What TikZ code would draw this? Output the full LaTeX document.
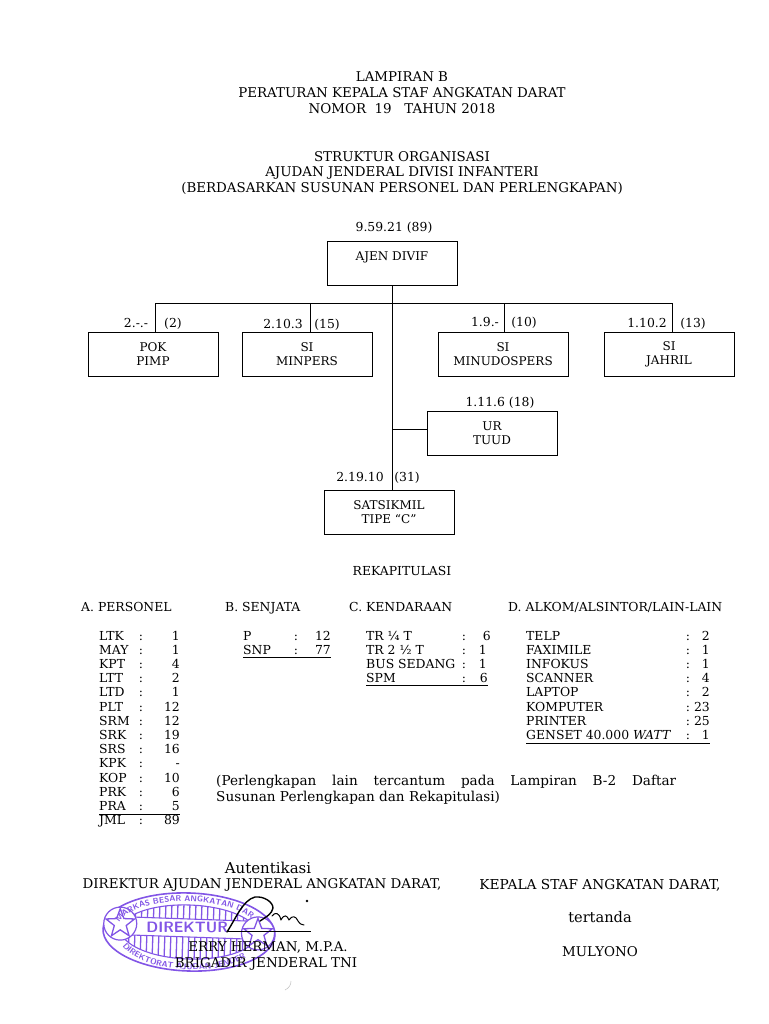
\documentclass[tikz,border=0pt]{standalone}
\usepackage{fontspec}
\setmainfont{DejaVu Serif}
\usetikzlibrary{shapes.geometric,decorations.text}
\definecolor{stampviolet}{RGB}{130,85,230}
\tikzset{
    unitbox/.style={draw,line width=0.9pt,minimum width=130pt,minimum height=44pt,align=center,inner sep=0pt,font=\fontsize{12}{14}\selectfont,execute at begin node={\rule{0pt}{13pt}}},
    txt/.style={inner sep=0pt,font=\fontsize{12.4}{14}\selectfont},
    lbl/.style={txt,anchor=base west},
    num/.style={txt,anchor=base east},
    mid/.style={txt,anchor=base},
    big/.style={font=\fontsize{13.4}{16}\selectfont},
    stamptext/.style={decorate,decoration={text along path,text align=center,text={|\sffamily\bfseries\fontsize{8.2}{9}\selectfont\color{stampviolet}|#1}}},
}
\begin{document}
\begin{tikzpicture}[x=1pt,y=-1pt]
    \useasboundingbox (0,0) rectangle (768,1024);

    \node[mid,big] (head1) at (402,82) {LAMPIRAN B};
    \node[mid,big] (head2) at (402,98) {PERATURAN KEPALA STAF ANGKATAN DARAT};
    \node[mid,big] (head3) at (402,114) {NOMOR\ \ 19\ \ \ TAHUN 2018};
    \node[mid,big] (title1) at (402,162) {STRUKTUR ORGANISASI};
    \node[mid,big] (title2) at (402,177) {AJUDAN JENDERAL DIVISI INFANTERI};
    \node[mid,big] (title3) at (402,193) {(BERDASARKAN SUSUNAN PERSONEL DAN PERLENGKAPAN)};

    \node[unitbox] (ajen) at (392,263) {AJEN DIVIF\\\mbox{}};
    \node[unitbox] (pok) at (153,354) {POK\\PIMP};
    \node[unitbox] (minpers) at (307,354) {SI\\MINPERS};
    \node[unitbox] (minudospers) at (503,354) {SI\\MINUDOSPERS};
    \node[unitbox] (jahril) at (669,354) {SI\\JAHRIL};
    \node[unitbox] (tuud) at (492,433) {UR\\TUUD};
    \node[unitbox] (satsikmil) at (389,512) {SATSIKMIL\\TIPE “C”};

    \draw[line width=0.9pt] (ajen.south) -- (ajen.south |- satsikmil.north);
    \draw[line width=0.9pt] (155,303) -- (672,303);
    \draw[line width=0.9pt] (155,303) -- (155,332);
    \draw[line width=0.9pt] (310,303) -- (310,332);
    \draw[line width=0.9pt] (504,303) -- (504,332);
    \draw[line width=0.9pt] (672,303) -- (672,332);
    \draw[line width=0.9pt] (tuud.west |- 0,429) -- (392,429);

    \node[mid] (strAjen) at (394,232) {9.59.21 (89)};
    \node[mid] (strPok) at (136,327) {2.-.-};
    \node[mid] (numPok) at (173,327) {(2)};
    \node[mid] (strMin) at (283,328) {2.10.3};
    \node[mid] (numMin) at (327,328) {(15)};
    \node[mid] (strUdo) at (485,326) {1.9.-};
    \node[mid] (numUdo) at (524,326) {(10)};
    \node[mid] (strJah) at (647,327) {1.10.2};
    \node[mid] (numJah) at (693,327) {(13)};
    \node[mid] (strTuud) at (500,406) {1.11.6 (18)};
    \node[mid] (strSat) at (360,481) {2.19.10};
    \node[mid] (numSat) at (407,481) {(31)};

    \node[mid] (rekap) at (402,575) {REKAPITULASI};
    \node[lbl] (headA) at (81,611) {A. PERSONEL};
    \node[lbl] (headB) at (225,611) {B. SENJATA};
    \node[lbl] (headC) at (349,611) {C. KENDARAAN};
    \node[lbl] (headD) at (508,611) {D. ALKOM/ALSINTOR/LAIN-LAIN};

    \foreach \name/\val [count=\i from 0] in {LTK/1,MAY/1,KPT/4,LTT/2,LTD/1,PLT/12,SRM/12,SRK/19,SRS/16,KPK/-,KOP/10,PRK/6,PRA/5,JML/89} {
        \node[lbl] (a\i) at (99,640+14.2*\i) {\name};
        \node[mid] (ac\i) at (141,640+14.2*\i) {:};
        \node[num] (av\i) at (180,640+14.2*\i) {\val};
    }
    \draw[line width=0.9pt] (99,814) -- (180,814);

    \foreach \name/\val [count=\i from 0] in {P/12,SNP/77} {
        \node[lbl] (b\i) at (243,640+14.2*\i) {\name};
        \node[mid] (bc\i) at (296,640+14.2*\i) {:};
        \node[num] (bv\i) at (331,640+14.2*\i) {\val};
    }
    \draw[line width=0.9pt] (243,657) -- (331,657);

    \foreach \name/\val/\pos [count=\i from 0] in {TR ¼ T/6/491,TR 2 ½ T/1/487,BUS SEDANG/1/487,SPM/6/488} {
        \node[lbl] (c\i) at (366,640+14.2*\i) {\name};
        \node[mid] (cc\i) at (464,640+14.2*\i) {:};
        \node[num] (cv\i) at (\pos,640+14.2*\i) {\val};
    }
    \draw[line width=0.9pt] (366,685) -- (488,685);

    \foreach \name/\val [count=\i from 0] in {TELP/2,FAXIMILE/1,INFOKUS/1,SCANNER/4,LAPTOP/2,KOMPUTER/23,PRINTER/25,GENSET 40.000 \textit{WATT}/1} {
        \node[lbl] (d\i) at (526,640+14.2*\i) {\name};
        \node[mid] (dc\i) at (688,640+14.2*\i) {:};
        \node[num] (dv\i) at (710,640+14.2*\i) {\val};
    }
    \draw[line width=0.9pt] (526,743) -- (710,743);

    \node[txt,anchor=north west,text width=460pt,align=justify,font=\fontsize{13.6}{16}\selectfont] (note) at (216,775) {(Perlengkapan lain tercantum pada Lampiran B-2 Daftar\linebreak Susunan Perlengkapan dan Rekapitulasi)};

    \begin{scope}[shift={(189,932)},rotate=-2,stampviolet]
        \draw[line width=1.6pt] (0,0) ellipse (86 and 39);
        \draw[line width=1.1pt] (0,0) ellipse (68 and 27);
        \begin{scope}
            \clip (0,0) ellipse (68 and 27);
            \foreach \x in {-66,-60,...,66}
                \draw[line width=1.3pt] (\x,-27) -- (\x,27);
        \end{scope}
        \fill[white] (-72,-13) rectangle (72,5);
        \draw[line width=1.1pt] (-68,-13) -- (68,-13) (-68,5) -- (68,5);
        \node[draw,circle,fill=white,line width=1.2pt,minimum size=33pt,inner sep=0pt] (ringL) at (-69,-6) {};
        \node[draw,circle,fill=white,line width=1.2pt,minimum size=33pt,inner sep=0pt] (ringR) at (69,-1) {};
        \node[draw,star,star points=5,star point ratio=2.4,line width=1.3pt,minimum size=30pt,inner sep=0pt] (starL) at (-69,-6) {};
        \node[draw,star,star points=5,star point ratio=2.4,line width=1.3pt,minimum size=30pt,inner sep=0pt] (starR) at (69,-1) {};
        \node[font=\sffamily\bfseries\fontsize{15}{15}\selectfont,inner sep=0pt] (stampName) at (-2,-4) {DIREKTUR};
        \path[stamptext={MARKAS BESAR ANGKATAN DARAT}] (-60,-17) .. controls (-33,-35) and (33,-35) .. (60,-17);
        \path[stamptext={DIREKTORAT AJUDAN JENDERAL}] (-60,22) .. controls (-33,43) and (33,43) .. (60,22);
    \end{scope}

    \draw[line width=0.8pt] (227,931) -- (311,931);
    \draw[line width=1.4pt,line cap=round,line join=round] (227,932) .. controls (236,918) and (243,900) .. (255,897) .. controls (264,896) and (273,902) .. (273,908) .. controls (272,914) and (266,917) .. (260,921);
    \draw[line width=1pt,line cap=round,line join=round] (272,916) .. controls (275,912) and (279,912) .. (281,920) .. controls (284,914) and (287,915) .. (289,920) .. controls (292,915) and (296,916) .. (298,921) .. controls (300,924) and (302,925) .. (304,925);
    \fill (307,901) circle (1.4);
    \draw[gray!45,line width=0.6pt] (291,981) .. controls (291,985) and (289,988) .. (285,990);

    \node[mid,font=\fontsize{15}{16}\selectfont] (auth) at (268,873) {Autentikasi};
    \node[mid,big] (dirAjen) at (262,888) {DIREKTUR AJUDAN JENDERAL ANGKATAN DARAT,};
    \node[mid,font=\fontsize{13.7}{16}\selectfont] (kasad) at (600,889) {KEPALA STAF ANGKATAN DARAT,};
    \node[mid,font=\fontsize{14.6}{16}\selectfont] (tertanda) at (600,922) {tertanda};
    \node[mid,big] (mulyono) at (600,956) {MULYONO};
    \node[mid,big] (erry) at (268,951) {ERRY HERMAN, M.P.A.};
    \node[mid,big] (brigjen) at (266,967) {BRIGADIR JENDERAL TNI};
\end{tikzpicture}
\end{document}
